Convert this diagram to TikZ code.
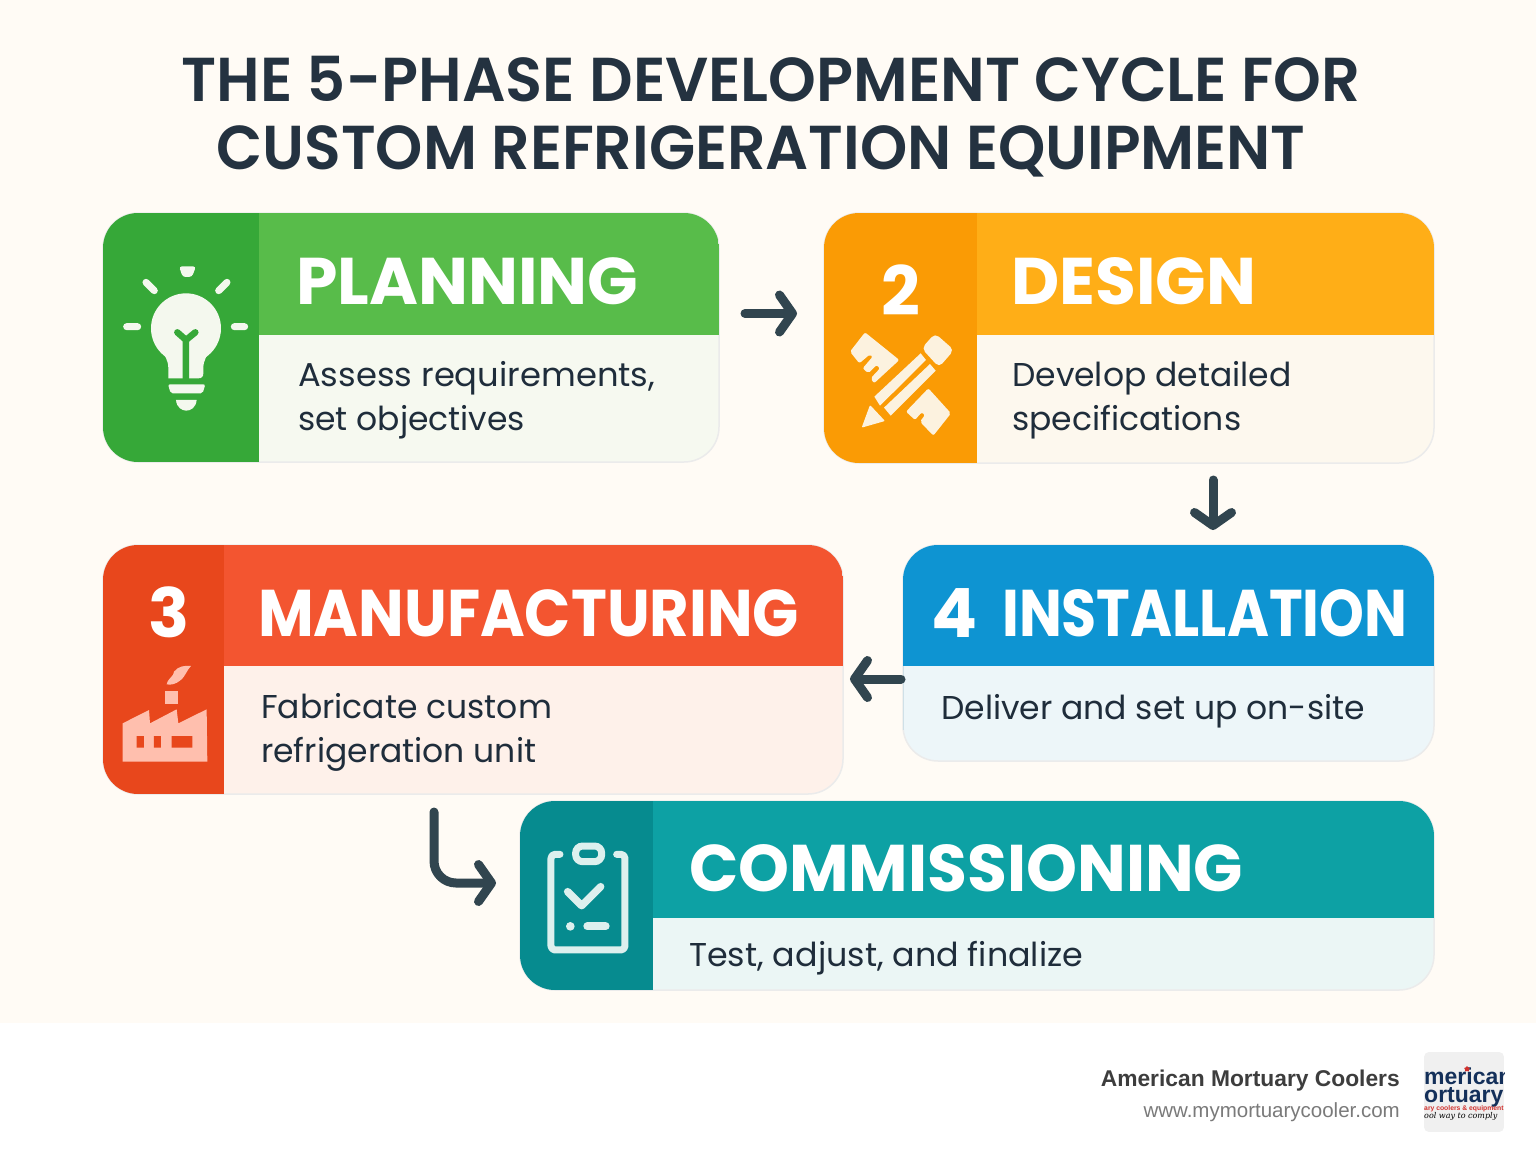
\documentclass[tikz,border=0pt]{standalone}
\usepackage{fontspec}
\usepackage{graphicx}
\usetikzlibrary{arrows.meta,shapes.geometric}
\setmainfont{Poppins}
\newfontfamily\headfont{Poppins SemiBold}
\newfontfamily\footfont{Liberation Sans}
\newfontfamily\logofont{DejaVu Serif}

\definecolor{pagebg}{HTML}{FFFBF5}
\definecolor{inktext}{HTML}{1F2D3B}
\definecolor{titleink}{HTML}{243240}
\definecolor{arrowink}{HTML}{31454F}
\definecolor{logonavy}{HTML}{14305A}
\definecolor{logored}{HTML}{D0312D}
\definecolor{sideplan}{HTML}{36A838}
\definecolor{headplan}{HTML}{58BC4A}
\definecolor{bodyplan}{HTML}{F6F9F0}
\definecolor{iconplan}{HTML}{F4F8EE}
\definecolor{sidedesign}{HTML}{FA9B05}
\definecolor{headdesign}{HTML}{FFAE17}
\definecolor{bodydesign}{HTML}{FDF8EE}
\definecolor{icondesign}{HTML}{FCF2DF}
\definecolor{sidemake}{HTML}{E8471C}
\definecolor{headmake}{HTML}{F35530}
\definecolor{bodymake}{HTML}{FEF1EA}
\definecolor{iconmake}{HTML}{FFBFAE}
\definecolor{sideinstall}{HTML}{0E94D2}
\definecolor{headinstall}{HTML}{0E94D2}
\definecolor{bodyinstall}{HTML}{EDF6F9}
\definecolor{sidetest}{HTML}{068B8F}
\definecolor{headtest}{HTML}{0DA1A4}
\definecolor{bodytest}{HTML}{EBF6F5}
\definecolor{icontest}{HTML}{DDF0EE}

\tikzset{
  titletext/.style={anchor=base,inner sep=0pt,text=titleink,font=\fontsize{62}{62}\headfont},
  headtext/.style={anchor=base west,inner sep=0pt,text=white,font=\fontsize{66}{66}\selectfont\bfseries},
  numtext/.style={anchor=base,inner sep=0pt,text=white,font=\fontsize{68}{68}\selectfont\bfseries},
  bodytext/.style={anchor=base west,inner sep=0pt,align=left,text=inktext,font=\fontsize{33}{43.5}\selectfont},
  flowarrow/.style={draw=arrowink,line width=9pt,line cap=round,line join=round,
    -{Straight Barb[round,length=13pt,width=37pt,line width=9pt]}},
  cardbox/.style={draw=black!8,line width=1.5pt,rounded corners=35pt,inner sep=0pt,outer sep=0pt}
}

% squeeze a text to the given width
\newcommand{\fitw}[2]{\resizebox{#1pt}{\height}{#2}}

% key, x0, y0, x1, y1, side split, head split
\newcommand{\phasecard}[7]{
  \node[cardbox,fill=body#1,minimum width={(#4-#2)*1pt},minimum height={(#5-#3)*1pt}]
    (#1card) at ({(#2+#4)/2},{(#3+#5)/2}) {};
  \begin{scope}
    \clip[rounded corners=35pt] (#2,#3) rectangle (#4,#5);
    \fill[head#1] (#6,#3) rectangle (#4,#7);
    \fill[side#1] (#2,#3) rectangle (#6,#5);
  \end{scope}
}

\begin{document}
\begin{tikzpicture}[x=1pt,y=-1pt]
\useasboundingbox (0,0) rectangle (1536,1154);
\fill[white] (0,0) rectangle (1536,1154);
\fill[pagebg] (0,0) rectangle (1536,1023);

\node[titletext] (titleone) at (771,101) {\fitw{1179}{THE 5-PHASE DEVELOPMENT CYCLE FOR}};
\node[titletext] (titletwo) at (761,169) {\fitw{1089}{CUSTOM REFRIGERATION EQUIPMENT}};

\phasecard{plan}{103}{213}{719}{462}{259}{335}
\phasecard{design}{824}{213}{1434}{463}{977}{335}
\phasecard{make}{103}{545}{843}{794}{224}{666}
\phasecard{install}{903}{545}{1434}{761}{903}{666}
\phasecard{test}{520}{801}{1434}{990}{653}{918}

% headers
\node[headtext] (planhead) at (296,304) {\fitw{342}{PLANNING}};
\node[headtext] (designhead) at (1011,304) {\fitw{245}{DESIGN}};
\node[headtext] (makehead) at (258,636) {\fitw{541}{MANUFACTURING}};
\node[headtext] (installhead) at (1002,636) {\fitw{405}{INSTALLATION}};
\node[headtext] (testhead) at (689,891) {\fitw{554}{COMMISSIONING}};
\node[numtext] (designnum) at (901,315) {2};
\node[numtext] (makenum) at (169,637) {3};
\node[numtext] (installnum) at (955,637) {4};

% texts
\node[bodytext] (plantext) at (298,430) {\fitw{357}{Assess requirements,}\\set objectives};
\node[bodytext] (designtext) at (1012,430) {Develop detailed\\specifications};
\node[bodytext] (maketext) at (261,762) {Fabricate custom\\refrigeration unit};
\node[bodytext] (installtext) at (941,719) {Deliver and set up on-site};
\node[bodytext] (testtext) at (689,966) {\fitw{394}{Test, adjust, and finalize}};

% arrows
\draw[flowarrow,shorten <=26pt,shorten >=27pt] ([yshift=24pt]plancard.east) -- ([yshift=24pt]plancard.east -| designcard.west);
\draw[flowarrow,shorten <=17pt,shorten >=15pt] ([xshift=84pt]designcard.south) -- ([xshift=84pt]designcard.south |- installcard.north);
\draw[flowarrow,shorten <=2pt,shorten >=7pt] ([yshift=-26pt]installcard.west) -- ([yshift=-26pt]installcard.west -| makecard.east);
\draw[flowarrow,rounded corners=22pt,shorten <=18pt,shorten >=24pt] ([xshift=-39pt]makecard.south) |- ([yshift=12.5pt]testcard.west);

% bulb
\begin{scope}[shift={(100,205)},x=0.3333pt,y=-0.3333pt]
  \fill[iconplan] (258,370) circle (105);
  \fill[iconplan] (205,520) -- (205,490) .. controls (205,440) and (160,430) .. (155,375)
    -- (362,375) .. controls (355,430) and (310,440) .. (310,490) -- (310,505)
    .. controls (310,515) and (305,520) .. (295,520) -- cycle;
  \draw[sideplan,line width=6.5pt,line cap=round,line join=round] (258,530) -- (258,405) (232,382) -- (258,405) -- (286,382);
  \fill[iconplan,rounded corners=2pt] (204,538) -- (316,538) -- (308,565) -- (212,565) -- cycle;
  \fill[iconplan] (228,585) -- (290,585) .. controls (288,608) and (272,617) .. (259,617) .. controls (246,617) and (230,608) .. (228,585) -- cycle;
  \fill[iconplan,rounded corners=3pt] (237,184) -- (288,184) -- (276,216) -- (248,216) -- cycle;
  \draw[iconplan,line width=7pt,line cap=round] (80,365) -- (113,365) (403,365) -- (434,365)
    (138,232) -- (163,257) (381,232) -- (356,257);
\end{scope}

% pencil and ruler
\begin{scope}[shift={(820,205)},x=0.3333pt,y=-0.3333pt]
  \fill[icondesign,rounded corners=1pt] (150,600) -- (195,648) -- (125,668) -- cycle;
  \fill[icondesign] (163,575) -- (302,445) -- (318,465) -- (180,602) -- cycle;
  \fill[icondesign] (192,608) -- (330,477) -- (347,497) -- (212,632) -- cycle;
  \fill[icondesign,rounded corners=5pt] (305,430) -- (345,385) -- (402,435) -- (357,487) -- cycle;
  \fill[icondesign,rounded corners=2pt] (90,440) -- (135,382) -- (238,465) -- (162,535) -- (152,520)
    -- (180,490) -- (170,480) -- (145,505) -- (128,490) -- (158,455) -- (150,448) -- (118,475) -- cycle;
  \fill[icondesign,rounded corners=2pt] (325,550) -- (393,625) -- (340,692) -- (300,650) -- (315,630)
    -- (305,622) -- (285,645) -- (258,620) -- cycle;
\end{scope}

% factory
\begin{scope}[shift={(100,640)},x=0.3333pt,y=-0.3333pt]
  \fill[iconmake] (200,133) .. controls (205,112) and (222,110) .. (222,95)
    .. controls (235,78) and (255,76) .. (273,78) .. controls (260,90) and (258,108) .. (240,122)
    .. controls (228,132) and (212,136) .. (200,133) -- cycle;
  \fill[iconmake] (195,152) rectangle (233,193);
  \fill[iconmake] (68,250) -- (147,210) -- (150,250) -- (230,208) -- (235,250) -- (320,208) -- (322,365) -- (68,365) -- cycle;
  \fill[sidemake] (110,288) rectangle (132,323) (162,288) rectangle (183,323) (215,288) rectangle (277,323);
\end{scope}

% clipboard
\begin{scope}[shift={(420,795)},x=0.3333pt,y=-0.3333pt]
  \draw[icontest,line width=7pt,line cap=round,line join=round,rounded corners=4pt]
    (420,178) -- (393,178) -- (393,465) -- (615,465) -- (615,178) -- (590,178);
  \draw[icontest,line width=7pt,rounded corners=7pt] (467,153) rectangle (545,200);
  \draw[icontest,line width=7.5pt,line cap=round,line join=round] (443,290) -- (485,332) -- (542,275);
  \fill[icontest] (451,394) circle (13);
  \draw[icontest,line width=8pt,line cap=round] (502,394) -- (557,394);
\end{scope}

% footer
\node[anchor=base east,inner sep=0pt,text=black!76,font=\footfont\fontsize{22.8}{22.8}\selectfont\bfseries] (brandname) at (1400,1086) {American Mortuary Coolers};
\node[anchor=base east,inner sep=0pt,text=black!52,font=\footfont\fontsize{20.5}{20.5}\selectfont] (brandurl) at (1400,1117) {www.mymortuarycooler.com};
\begin{scope}
  \clip[rounded corners=5pt] (1424,1052) rectangle (1504,1132);
  \fill[black!6] (1424,1052) rectangle (1504,1132);
  \node[anchor=base west,inner sep=0pt,text=logonavy,font=\footfont\fontsize{23}{23}\selectfont\bfseries] (logoone) at (1424,1084) {merican};
  \node[anchor=base west,inner sep=0pt,text=logonavy,font=\footfont\fontsize{23}{23}\selectfont\bfseries] (logotwo) at (1424,1102) {ortuary};
  \node[anchor=base west,inner sep=0pt,text=logored,font=\footfont\fontsize{6.8}{6.8}\selectfont\bfseries] (logothree) at (1424,1110) {ary coolers \& equipment};
  \node[anchor=base west,inner sep=0pt,text=black,font=\logofont\fontsize{8}{8}\selectfont\itshape] (logofour) at (1424,1118) {ool way to comply};
  \node[star,star points=5,fill=logored,inner sep=0pt,minimum size=6pt] (logostar) at (1467,1069) {};
\end{scope}
\end{tikzpicture}
\end{document}
